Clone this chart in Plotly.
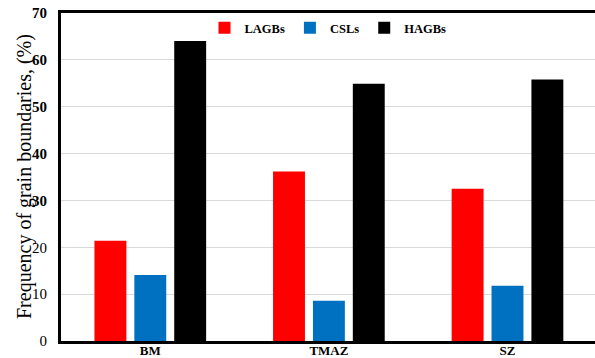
import plotly.graph_objects as go

categories = ["BM", "TMAZ", "SZ"]
series_names = ["LAGBs", "CSLs", "HAGBs"]
lagbs = [21.4, 36.2, 32.5]
csls = [14.1, 8.6, 11.8]
hagbs = [64.0, 54.9, 55.8]
colors = ["#ff0000", "#0070c0", "#000000"]
y_ticks = [0, 10, 20, 30, 40, 50, 60, 70]
y_ticktext = ["0", "10", "20", "<b>30</b>", "<b>40</b>", "<b>50</b>", "<b>60</b>", "<b>70</b>"]
y_title = "Frequency of grain boundaries, (%)"

FONT = "Liberation Serif"

fig = go.Figure()
for name, vals, col in zip(series_names, [lagbs, csls, hagbs], colors):
    fig.add_trace(go.Bar(x=categories, y=vals, name=f"<b>{name}</b>", marker=dict(color=col, line=dict(width=0))))

fig.update_layout(
    width=595, height=358,
    margin=dict(l=61, r=0, t=13, b=17),
    paper_bgcolor="white", plot_bgcolor="white",
    barmode="group", bargap=0.33, bargroupgap=0.2,
    font=dict(family=FONT, color="black"),
    showlegend=True,
    legend=dict(orientation="h", x=0.5, xanchor="center", y=1.0, yanchor="top",
                font=dict(family=FONT, size=12.5, color="black"), bgcolor="rgba(0,0,0,0)",
                itemclick=False),
    xaxis=dict(range=[-0.5, 2.49], showline=True, linecolor="black", linewidth=2.5, mirror=True,
               ticks="", tickfont=dict(family=FONT, size=13, color="black"), ticklabelstandoff=-4,
               tickprefix="<b>", ticksuffix="</b>", showgrid=False, automargin=False),
    yaxis=dict(range=[0, 70], tickvals=y_ticks, ticktext=y_ticktext, showline=True, linecolor="black",
               linewidth=3, ticks="", showgrid=True, gridcolor="#d9d9d9", gridwidth=1,
               tickfont=dict(family=FONT, size=15, color="black"), ticklabelstandoff=8,
               zeroline=False, automargin=False),
    annotations=[dict(text=y_title, xref="paper", yref="paper", x=-61/534 + 24/534, y=0.5,
                      xanchor="center", yanchor="middle", textangle=-90, showarrow=False,
                      font=dict(family=FONT, size=20, color="black"))],
)

fig.write_html("out.html", config={"displayModeBar": False},
               post_script="document.body.style.margin='0';document.body.style.overflow='hidden';")
